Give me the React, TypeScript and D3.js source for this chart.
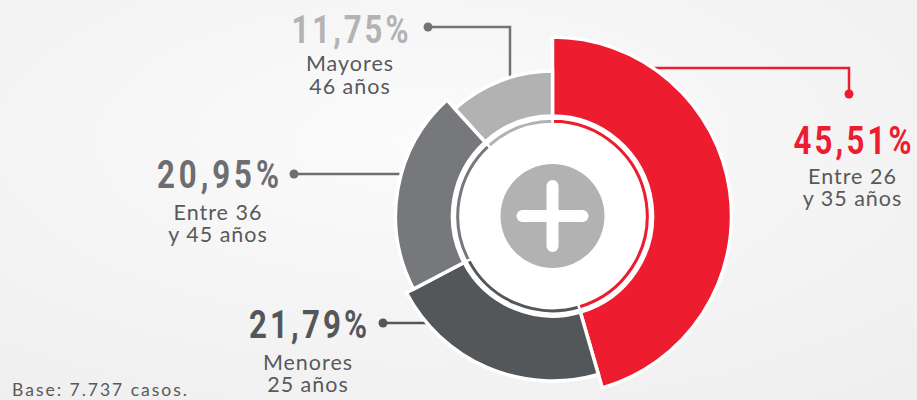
import * as d3 from 'd3'

const W = 917, H = 400
const CX = 552.5, CY = 216

// data, clockwise from 12 o'clock
const groupLine1 = ['Entre 26', 'Menores', 'Entre 36', 'Mayores']
const groupLine2 = ['y 35 años', '25 años', 'y 45 años', '46 años']
const shares = [45.51, 21.79, 20.95, 11.75]
const baseNote = 'Base: 7.737 casos.'

// styles
const segColors = ['#ed1c2e', '#54575a', '#77787b', '#b2b2b2']
const valueColors = ['#ed1c2e', '#54575a', '#6d6e71', '#b3b3b3']
const leaderColors = ['#ed1c2e', '#54575a', '#6d6e71', '#737373']
const OUTER_R = [179, 165, 157, 145]
const R_IN = 100
const RING_IN = 92, RING_OUT = 97.5

// label layout: text centre, baselines, value width, dot, leader bend
const LAYOUT = [
  { x: 852.5, yv: 154, y1: 184, y2: 206, w: 118, dot: [849, 94], bend: [849, 68] },
  { x: 308, yv: 338, y1: 369.5, y2: 392, w: 118, dot: [383, 323], bend: null },
  { x: 218, yv: 188, y1: 220, y2: 242, w: 122, dot: [294, 174], bend: null },
  { x: 350, yv: 43, y1: 71, y2: 94, w: 117, dot: [428, 27], bend: [510, 27] },
]

const locale = d3.formatLocale({ decimal: ',', thousands: '.', grouping: [3], currency: ['', ''] })
const fmt = locale.format('.2f')

const VALUE_FONT = 'Roboto, sans-serif'
const LABEL_FONT = 'Lato, sans-serif'
const SQUEEZE = 0.8

export default function App() {
  const pie = d3.pie<number>().sort(null).value(d => d)
  const arcs = pie(shares)
  const arc = d3.arc<d3.PieArcDatum<number>>()
  const total = d3.sum(shares)

  // where a leader line meets the outer edge of its segment
  const leader = (i: number) => {
    const L = LAYOUT[i]
    const R = OUTER_R[i] - 2
    if (L.bend && L.bend[0] !== L.dot[0]) {
      const dx = L.bend[0] - CX
      const yEnd = CY - Math.sqrt(R * R - dx * dx)
      return `M${L.dot[0]},${L.dot[1]}H${L.bend[0]}V${yEnd}`
    }
    if (L.bend) {
      const dy = L.bend[1] - CY
      const xStart = CX + Math.sqrt(R * R - dy * dy)
      return `M${xStart},${L.bend[1]}H${L.bend[0]}V${L.dot[1]}`
    }
    const dy = L.dot[1] - CY
    const xEnd = CX - Math.sqrt(R * R - dy * dy)
    return `M${L.dot[0]},${L.dot[1]}H${xEnd}`
  }

  return (
    <svg width={W} height={H} style={{ position: 'absolute', left: 0, top: 0 }}>
      <defs>
        <radialGradient id="bg" cx="0.45" cy="0.35" r="0.8">
          <stop offset="0" stopColor="#fbfbfb" />
          <stop offset="1" stopColor="#efefef" />
        </radialGradient>
      </defs>
      <rect width={W} height={H} fill="url(#bg)" />

      {/* leader lines under the segments */}
      {shares.map((_, i) => (
        <g key={'l' + i}>
          <path d={leader(i)} fill="none" stroke={leaderColors[i]} strokeWidth={2.5} />
          <circle cx={LAYOUT[i].dot[0]} cy={LAYOUT[i].dot[1]} r={4.5} fill={leaderColors[i]} />
        </g>
      ))}

      <g transform={`translate(${CX},${CY})`}>
        <circle r={R_IN} fill="#fff" />
        {arcs.map((a, i) => (
          <path key={'s' + i}
            d={arc.innerRadius(R_IN).outerRadius(OUTER_R[i])(a) || ''}
            fill={segColors[i]} stroke="#fff" strokeWidth={3.5} strokeLinejoin="miter" />
        ))}
        {arcs.map((a, i) => (
          <path key={'r' + i}
            d={arc.innerRadius(RING_IN).outerRadius(RING_OUT)(a) || ''}
            fill={segColors[i]} stroke="#fff" strokeWidth={2.5} />
        ))}
        <circle r={52} fill="#b2b2b2" />
        <line x1={-30} x2={30} y1={0} y2={0} stroke="#fff" strokeWidth={12} strokeLinecap="round" />
        <line x1={0} x2={0} y1={-30} y2={30} stroke="#fff" strokeWidth={12} strokeLinecap="round" />
      </g>

      {shares.map((v, i) => {
        const L = LAYOUT[i]
        return (
          <g key={'t' + i}>
            <text transform={`translate(${L.x},${L.yv}) scale(${SQUEEZE},1)`}
              textAnchor="middle" fill={valueColors[i]} fontFamily={VALUE_FONT}
              fontWeight={700} fontSize={39}
              textLength={L.w / SQUEEZE} lengthAdjust="spacing">
              {fmt((v / total) * 100) + '%'}
            </text>
            <text x={L.x} y={L.y1} textAnchor="middle" fill="#58595b"
              fontFamily={LABEL_FONT} fontSize={21.5} letterSpacing={1}>
              {groupLine1[i]}
            </text>
            <text x={L.x} y={L.y2} textAnchor="middle" fill="#58595b"
              fontFamily={LABEL_FONT} fontSize={21.5} letterSpacing={1}>
              {groupLine2[i]}
            </text>
          </g>
        )
      })}

      <text x={12} y={396} fill="#58595b" fontFamily={LABEL_FONT} fontSize={17.5}
        textLength={175} lengthAdjust="spacing">
        {baseNote}
      </text>
    </svg>
  )
}
